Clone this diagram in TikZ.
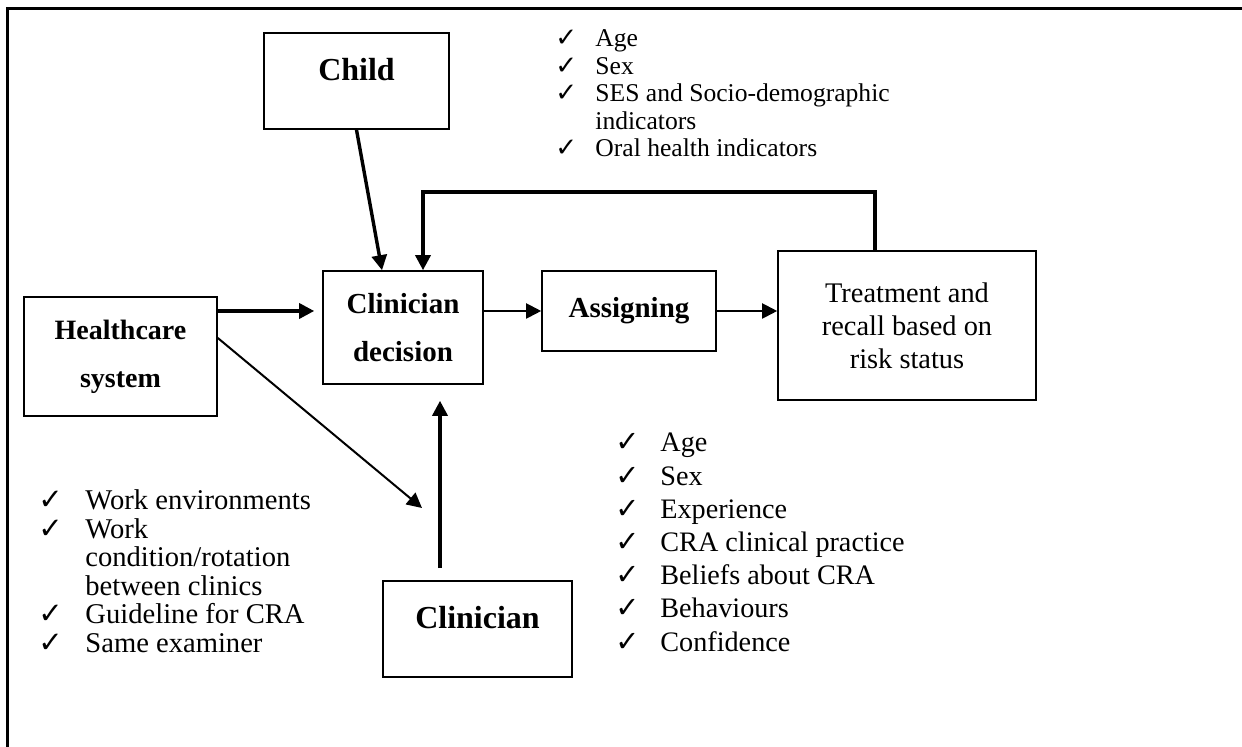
\documentclass[tikz,border=0pt]{standalone}
\usepackage{graphicx}
\usepackage{fontspec}
\setmainfont{Liberation Serif}
\newfontfamily\tickfont{DejaVu Sans}
\usetikzlibrary{arrows.meta,calc,positioning}
\tikzset{
    x=0.5pt,y=-0.5pt,
    box/.style ={rectangle, draw, line width=0.8pt, inner sep=0pt, align=center},
    heavy/.style = {line width=1.7pt, -{Triangle[length=7.5pt,width=7.5pt]}},
    light/.style = {line width=1pt, -{Triangle[length=7.5pt,width=7.5pt]}},
    factors/.style = {anchor=base west, inner sep=0pt, align=left}
}
\newcommand{\bigbold}{\fontsize{16}{24}\selectfont\bfseries}
\newcommand{\midbold}{\fontsize{14.5}{24}\selectfont\bfseries}
\newcommand{\tick}{\raisebox{0pt}[0pt][0pt]{\scalebox{1.02}{\tickfont\bfseries ✓}}}

\begin{document}
\begin{tikzpicture}
    \useasboundingbox (0,0) rectangle (1242,747);
    % frame
    \draw[line width=1.5pt] (7,760) -- (7,9) -- (1250,9);

    \node[box, minimum width=92.5pt, minimum height=48pt, text height=6pt, text depth=6pt, font=\bigbold] (child) at (356.5,81) {Child};
    \node[box, minimum width=80pt, minimum height=56.5pt, font=\midbold] (decision) at (403,327.5) {Clinician\\decision};
    \node[box, minimum width=87pt, minimum height=40pt, font=\midbold] (assign) at (629,311) {Assigning};
    \node[box, minimum width=129pt, minimum height=74.5pt, font=\fontsize{14.2}{16.5}\selectfont] (treat) at (907,325.5) {Treatment and\\recall based on\\risk status};
    \node[box, minimum width=96.5pt, minimum height=59.5pt, font=\fontsize{14}{24}\selectfont\bfseries] (health) at (120.5,356.5) {Healthcare\\system};
    \node[box, minimum width=94.5pt, minimum height=48pt, text height=6pt, text depth=6pt, font=\bigbold] (clin) at (477.5,629) {Clinician};

    \coordinate (fb) at (423,192);
    \coordinate (diagend) at (422,508);

    \draw[heavy, shorten >=4pt] (health.east |- assign) -- (decision.west |- assign);
    \draw[light] (decision.east |- assign) -- (assign.west);
    \draw[light] (assign) -- (treat.west |- assign);
    \draw[heavy] (child.south) -- ([xshift=-10.5pt]decision.north);
    \draw[heavy] ([xshift=-16pt]treat.north) |- (fb) -- ([xshift=10pt]decision.north);
    \draw[heavy, shorten <=6pt, shorten >=8pt] ([xshift=-18.75pt]clin.north) -- ([xshift=-18.75pt]clin.north |- decision.south);
    \draw[light] ([yshift=9.25pt]health.east) -- (diagend);

    % factor lists
    \node[factors, font=\fontsize{12.8}{13.75}\selectfont] (childlist) at (555,47) {%
      \begin{tabular}[t]{@{}p{20pt}@{}l@{}}
        \tick & Age\\
        \tick & Sex\\
        \tick & SES and Socio-demographic\\
              & indicators\\
        \tick & Oral health indicators
      \end{tabular}};
    \node[factors, font=\fontsize{14.1}{16.6}\selectfont] (clinlist) at (615,452) {%
      \begin{tabular}[t]{@{}p{22.5pt}@{}l@{}}
        \tick & Age\\
        \tick & Sex\\
        \tick & Experience\\
        \tick & CRA clinical practice\\
        \tick & Beliefs about CRA\\
        \tick & Behaviours\\
        \tick & Confidence
      \end{tabular}};
    \node[factors, font=\fontsize{14.3}{14.2}\selectfont] (healthlist) at (38,510) {%
      \begin{tabular}[t]{@{}p{23.5pt}@{}l@{}}
        \tick & Work environments\\
        \tick & Work\\
              & condition/rotation\\
              & between clinics\\
        \tick & Guideline for CRA\\
        \tick & Same examiner
      \end{tabular}};
\end{tikzpicture}
\end{document}
